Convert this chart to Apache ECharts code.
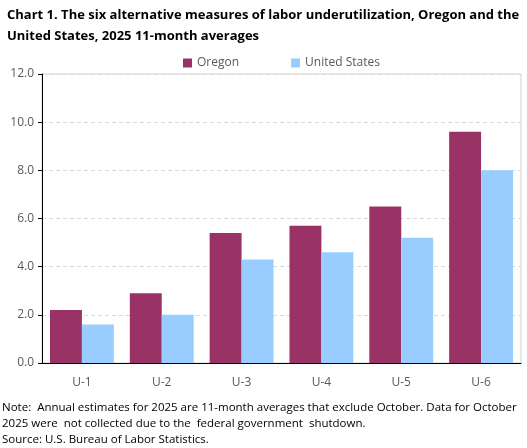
<!DOCTYPE html>
<html>
<head>
<meta charset="utf-8">
<script src="https://cdn.jsdelivr.net/npm/echarts@6/dist/echarts.min.js"></script>
<style>
html,body{margin:0;padding:0;background:#fff;}
#main{width:527px;height:448px;}
</style>
</head>
<body>
<div id="main"></div>
<script>
var categories = ['U-1', 'U-2', 'U-3', 'U-4', 'U-5', 'U-6'];
var oregon = [2.2, 2.9, 5.4, 5.7, 6.5, 9.6];
var unitedStates = [1.6, 2.0, 4.3, 4.6, 5.2, 8.0];
var seriesNames = ['Oregon', 'United States'];

var chart = echarts.init(document.getElementById('main'));
var font = 'Open Sans, Noto Sans, sans-serif';
var option = {
    animation: false,
    color: ['#993366', '#99ccff'],
    title: {
        text: 'Chart 1. The six alternative measures of labor underutilization, Oregon and the\nUnited States, 2025 11-month averages',
        left: 2,
        top: 0,
        textStyle: {
            fontFamily: font,
            fontSize: 13,
            fontWeight: 'bold',
            color: '#000',
            lineHeight: 21
        }
    },
    legend: {
        data: seriesNames,
        top: 52,
        left: 178,
        itemWidth: 9,
        itemHeight: 9,
        itemGap: 52,
        icon: 'rect',
        textStyle: {fontFamily: font, fontSize: 12, color: '#595959'}
    },
    grid: {
        left: 42,
        right: 6,
        top: 74,
        bottom: 85,
        show: true,
        borderColor: '#d0d0d0',
        borderWidth: 1
    },
    xAxis: {
        type: 'category',
        data: categories,
        axisLine: {lineStyle: {color: '#000', width: 1}},
        axisTick: {show: false},
        axisLabel: {fontFamily: font, fontSize: 12, color: '#595959', margin: 14}
    },
    yAxis: {
        type: 'value',
        min: 0,
        max: 12,
        interval: 2,
        axisLine: {show: true, lineStyle: {color: '#000', width: 1}},
        axisTick: {show: true, length: 4, lineStyle: {color: '#000'}},
        axisLabel: {
            fontFamily: font, fontSize: 12, color: '#595959', margin: 8,
            formatter: function (v) { return v.toFixed(1); }
        },
        splitLine: {lineStyle: {color: '#d9d9d9', type: [4, 3]}}
    },
    series: [
        {
            name: seriesNames[0],
            type: 'bar',
            data: oregon,
            barGap: '0%',
            barCategoryGap: '20%'
        },
        {
            name: seriesNames[1],
            type: 'bar',
            data: unitedStates,
            barGap: '0%',
            barCategoryGap: '20%'
        }
    ],
    graphic: [
        {
            type: 'text',
            left: 2,
            top: 400,
            style: {
                text: 'Note:  Annual estimates for 2025 are 11-month averages that exclude October. Data for October\n2025 were  not collected due to the  federal government  shutdown.\nSource: U.S. Bureau of Labor Statistics.',
                font: '11.5px ' + font,
                fill: '#000',
                lineHeight: 16
            }
        }
    ]
};
chart.setOption(option);
</script>
</body>
</html>
